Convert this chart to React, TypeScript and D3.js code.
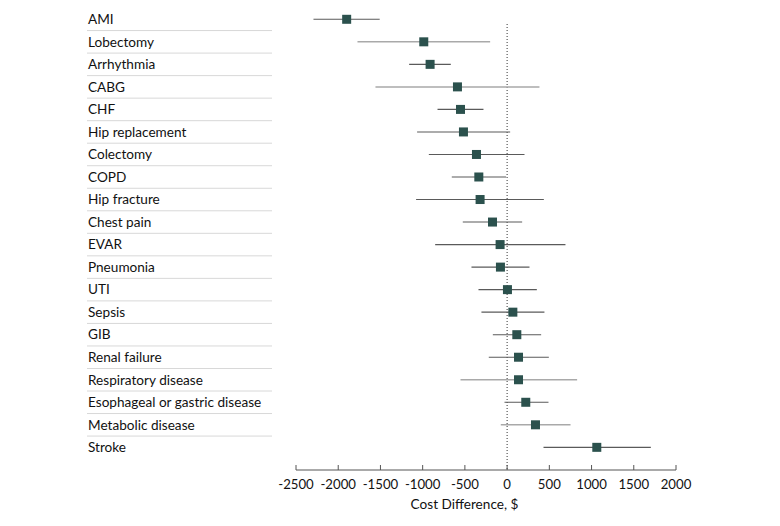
import React from "react";
import * as d3 from "d3";

const categories = [
  "AMI", "Lobectomy", "Arrhythmia", "CABG", "CHF", "Hip replacement", "Colectomy", "COPD",
  "Hip fracture", "Chest pain", "EVAR", "Pneumonia", "UTI", "Sepsis", "GIB", "Renal failure",
  "Respiratory disease", "Esophageal or gastric disease", "Metabolic disease", "Stroke",
];
const estimates = [-1900, -987, -912, -588, -552, -517, -363, -335, -320, -173, -83, -79, 4, 68, 115, 135, 135, 221, 336, 1062];
const lower = [-2293, -1772, -1160, -1559, -824, -1066, -927, -655, -1078, -525, -852, -422, -339, -304, -169, -217, -552, -31, -75, 431];
const upper = [-1509, -201, -667, 383, -280, 36, 206, -12, 435, 178, 691, 265, 352, 442, 403, 494, 829, 490, 751, 1702];
const tickValues = [-2500, -2000, -1500, -1000, -500, 0, 500, 1000, 1500, 2000];
const lightRows = ["Lobectomy", "CABG", "Respiratory disease", "Metabolic disease"];

export default function App() {
  const W = 780, H = 526;
  const x = d3.scaleLinear().domain([-2500, 2000]).range([296, 676]);
  const y = d3.scaleBand<string>().domain(categories).range([8.03, 458.6]).paddingInner(0).paddingOuter(0);
  const bw = y.bandwidth();
  const font = "Lato, 'Open Sans', sans-serif";
  const axisY = 470;
  const sq = 9;
  return (
    <svg width={W} height={H} style={{ position: "absolute", left: 0, top: 0, background: "#fff" }}>
      {categories.map((c, i) => (
        <g key={c}>
          <text x={88} y={(y(c) as number) + bw / 2} dy="0.35em" fontFamily={font} fontSize={13.6} fill="#111">{c}</text>
          {i < categories.length - 1 && (
            <line x1={87} x2={272} y1={(y(c) as number) + bw} y2={(y(c) as number) + bw} stroke="#d8d8d8" strokeWidth={1} />
          )}
        </g>
      ))}
      <line x1={x(0)} x2={x(0)} y1={24} y2={axisY} stroke="#333" strokeWidth={1} strokeDasharray="1 2" />
      {categories.map((c, i) => {
        const cy = (y(c) as number) + bw / 2;
        const light = lightRows.includes(c);
        return (
          <g key={"m" + c}>
            <line x1={x(lower[i])} x2={x(upper[i])} y1={cy} y2={cy} stroke={light ? "#a9a9a9" : "#5a5a5a"} strokeWidth={light ? 1.5 : 1.1} />
            <rect x={x(estimates[i]) - sq / 2} y={cy - sq / 2} width={sq} height={sq} fill="#2b514d" />
          </g>
        );
      })}
      <line x1={x(-2500)} x2={x(2000)} y1={axisY} y2={axisY} stroke="#555" strokeWidth={1} />
      {tickValues.map((t) => (
        <g key={t}>
          <line x1={x(t)} x2={x(t)} y1={axisY} y2={axisY - 5} stroke="#555" strokeWidth={1} />
          <text x={x(t)} y={484} dy="0.35em" textAnchor="middle" fontFamily={font} fontSize={13.2} fill="#111">{t}</text>
        </g>
      ))}
      <text x={464.5} y={504} dy="0.35em" textAnchor="middle" fontFamily={font} fontSize={13.6} fill="#111">Cost Difference, $</text>
    </svg>
  );
}
